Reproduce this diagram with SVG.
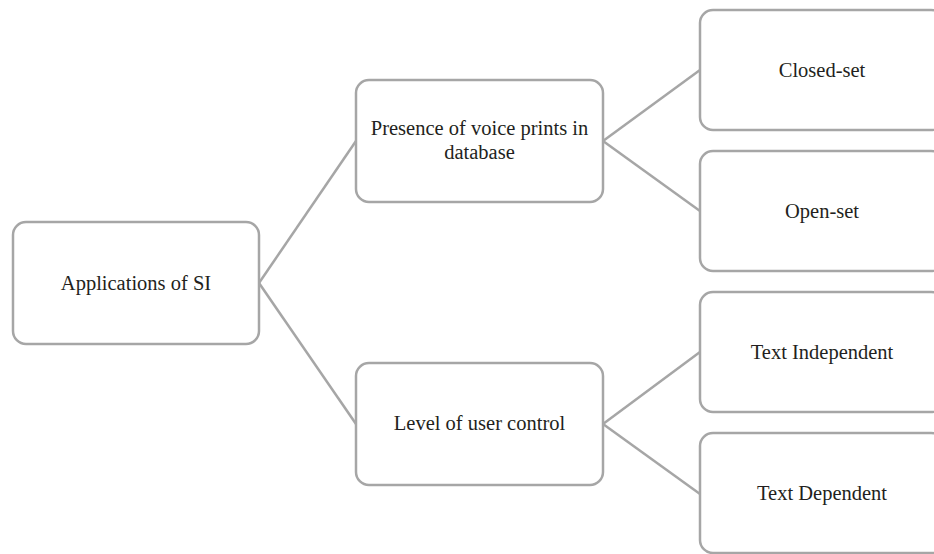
<svg xmlns="http://www.w3.org/2000/svg" width="934" height="554" viewBox="0 0 934 554">
<style>
.box{fill:#ffffff;stroke:#a6a6a6;stroke-width:2.5}
.lbl{font-family:"Liberation Serif","Times New Roman",serif;font-size:20.5px;fill:#231f20;text-anchor:middle}
.con{stroke:#a6a6a6;stroke-width:2.5;fill:none}
</style>
<rect width="934" height="554" fill="#ffffff"/>
<g id="connectors">
<line class="con" x1="259" y1="283" x2="356" y2="141"/>
<line class="con" x1="259" y1="283" x2="356" y2="424"/>
<line class="con" x1="603" y1="141" x2="700" y2="70"/>
<line class="con" x1="603" y1="141" x2="700" y2="211"/>
<line class="con" x1="603" y1="424" x2="700" y2="352"/>
<line class="con" x1="603" y1="424" x2="700" y2="494"/>
</g>
<g id="root">
<rect class="box" x="13" y="222" width="246" height="122" rx="13"/>
<text class="lbl" x="136" y="290">Applications of SI</text>
</g>
<g id="presence">
<rect class="box" x="356" y="80" width="247" height="122" rx="13"/>
<text class="lbl" x="479.5" y="135">Presence of voice prints in</text>
<text class="lbl" x="479.5" y="159">database</text>
</g>
<g id="level">
<rect class="box" x="356" y="363" width="247" height="122" rx="13"/>
<text class="lbl" x="479.5" y="430">Level of user control</text>
</g>
<g id="closed">
<rect class="box" x="700" y="10" width="244" height="120" rx="13"/>
<text class="lbl" x="822" y="77">Closed-set</text>
</g>
<g id="open">
<rect class="box" x="700" y="151" width="244" height="120" rx="13"/>
<text class="lbl" x="822" y="218">Open-set</text>
</g>
<g id="textindep">
<rect class="box" x="700" y="292" width="244" height="120" rx="13"/>
<text class="lbl" x="822" y="359">Text Independent</text>
</g>
<g id="textdep">
<rect class="box" x="700" y="433" width="244" height="120" rx="13"/>
<text class="lbl" x="822" y="500">Text Dependent</text>
</g>
</svg>
